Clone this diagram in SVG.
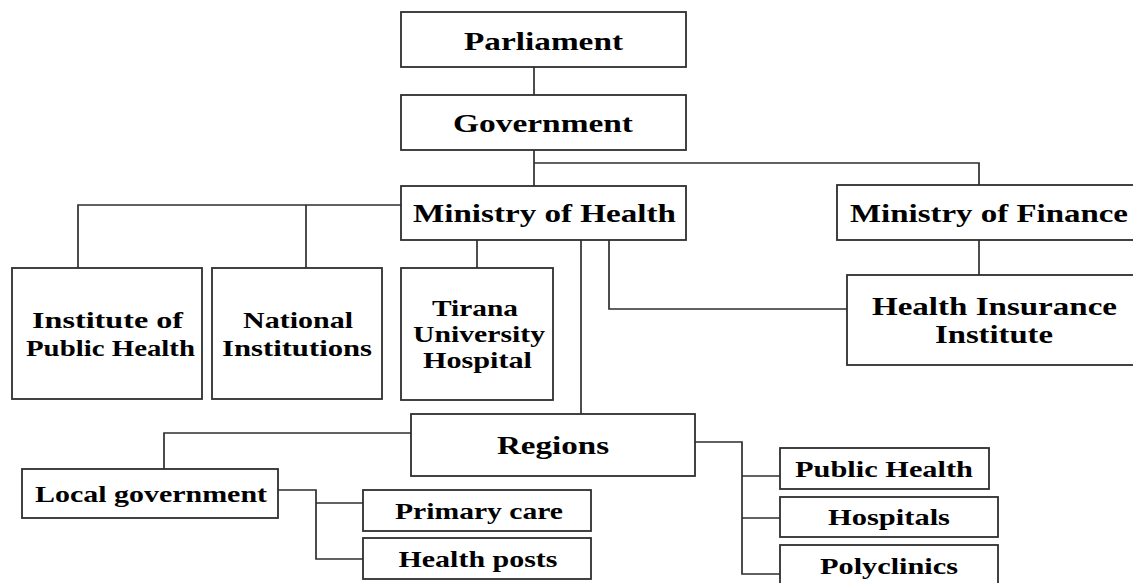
<svg xmlns="http://www.w3.org/2000/svg" width="1133" height="583" viewBox="0 0 1133 583">
  <style>
    .box { fill: #ffffff; stroke: #2e2e2e; stroke-width: 1.8; }
    .link { fill: none; stroke: #2e2e2e; stroke-width: 1.7; }
    text { font-family: "Liberation Serif", "Times New Roman", serif; font-weight: bold; fill: #000000; text-anchor: middle; }
    .big { font-size: 25px; }
    .mid { font-size: 22.5px; }
  </style>
  <rect x="0" y="0" width="1133" height="583" fill="#ffffff"/>

  <!-- connectors -->
  <g id="connectors">
    <path class="link" d="M534 67 V95"/>
    <path class="link" d="M534 150 V186"/>
    <path class="link" d="M534 163 H979 V185"/>
    <path class="link" d="M979 240 V275"/>
    <path class="link" d="M401 205 H78 V268"/>
    <path class="link" d="M306 205 V268"/>
    <path class="link" d="M477 240 V268"/>
    <path class="link" d="M581 240 V414"/>
    <path class="link" d="M609 240 V309 H847"/>
    <path class="link" d="M411 433 H164 V469"/>
    <path class="link" d="M278 490 H316 V559 H363"/>
    <path class="link" d="M316 503 H363"/>
    <path class="link" d="M695 442 H742 V574 H780"/>
    <path class="link" d="M742 476 H780"/>
    <path class="link" d="M742 518 H780"/>
  </g>

  <g id="parliament">
    <rect class="box" x="401" y="12" width="285" height="55"/>
    <text class="big" x="543.5" y="50" textLength="159" lengthAdjust="spacingAndGlyphs">Parliament</text>
  </g>
  <g id="government">
    <rect class="box" x="401" y="95" width="285" height="55"/>
    <text class="big" x="543" y="132" textLength="180" lengthAdjust="spacingAndGlyphs">Government</text>
  </g>
  <g id="ministry-health">
    <rect class="box" x="401" y="186" width="285" height="54"/>
    <text class="big" x="544.5" y="222" textLength="263" lengthAdjust="spacingAndGlyphs">Ministry of Health</text>
  </g>
  <g id="ministry-finance">
    <rect class="box" x="837" y="185" width="310" height="55"/>
    <text class="big" x="989" y="222" textLength="278" lengthAdjust="spacingAndGlyphs">Ministry of Finance</text>
  </g>
  <g id="health-insurance">
    <rect class="box" x="847" y="275" width="300" height="90"/>
    <text class="big" x="994.5" y="315" textLength="245" lengthAdjust="spacingAndGlyphs">Health Insurance</text>
    <text class="big" x="994" y="343" textLength="118" lengthAdjust="spacingAndGlyphs">Institute</text>
  </g>
  <g id="public-health-institute">
    <rect class="box" x="12" y="268" width="190" height="131"/>
    <text class="mid" x="107.5" y="328" textLength="151" lengthAdjust="spacingAndGlyphs">Institute of</text>
    <text class="mid" x="110.5" y="356" textLength="169" lengthAdjust="spacingAndGlyphs">Public Health</text>
  </g>
  <g id="national-institutions">
    <rect class="box" x="212" y="268" width="170" height="131"/>
    <text class="mid" x="298" y="328" textLength="110" lengthAdjust="spacingAndGlyphs">National</text>
    <text class="mid" x="297" y="356" textLength="150" lengthAdjust="spacingAndGlyphs">Institutions</text>
  </g>
  <g id="tirana-hospital">
    <rect class="box" x="401" y="268" width="152" height="132"/>
    <text class="mid" x="475" y="316" textLength="86" lengthAdjust="spacingAndGlyphs">Tirana</text>
    <text class="mid" x="479" y="342" textLength="132" lengthAdjust="spacingAndGlyphs">University</text>
    <text class="mid" x="477.5" y="368" textLength="109" lengthAdjust="spacingAndGlyphs">Hospital</text>
  </g>
  <g id="regions">
    <rect class="box" x="411" y="414" width="284" height="62"/>
    <text class="big" x="553" y="454" textLength="112" lengthAdjust="spacingAndGlyphs">Regions</text>
  </g>
  <g id="local-government">
    <rect class="box" x="22" y="469" width="256" height="49"/>
    <text class="mid" x="151" y="502" textLength="232" lengthAdjust="spacingAndGlyphs">Local government</text>
  </g>
  <g id="primary-care">
    <rect class="box" x="363" y="490" width="228" height="41"/>
    <text class="mid" x="479" y="519" textLength="168" lengthAdjust="spacingAndGlyphs">Primary care</text>
  </g>
  <g id="health-posts">
    <rect class="box" x="363" y="538" width="228" height="41"/>
    <text class="mid" x="478" y="567" textLength="159" lengthAdjust="spacingAndGlyphs">Health posts</text>
  </g>
  <g id="public-health">
    <rect class="box" x="780" y="448" width="209" height="41"/>
    <text class="mid" x="884" y="477" textLength="178" lengthAdjust="spacingAndGlyphs">Public Health</text>
  </g>
  <g id="hospitals">
    <rect class="box" x="780" y="497" width="218" height="40"/>
    <text class="mid" x="889" y="525" textLength="122" lengthAdjust="spacingAndGlyphs">Hospitals</text>
  </g>
  <g id="polyclinics">
    <rect class="box" x="780" y="545" width="218" height="50"/>
    <text class="mid" x="889" y="574" textLength="138" lengthAdjust="spacingAndGlyphs">Polyclinics</text>
  </g>
</svg>
